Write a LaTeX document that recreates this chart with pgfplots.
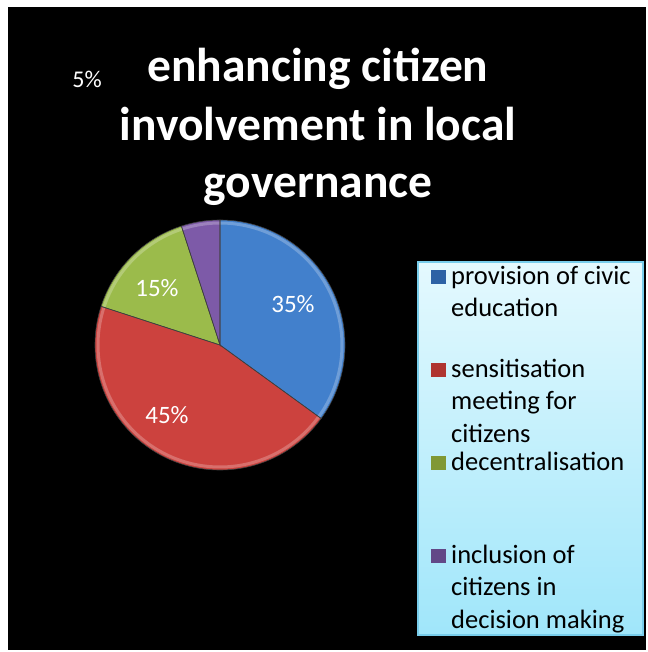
\documentclass[border=0pt]{standalone}
\usepackage{pgfplots}
\pgfplotsset{compat=1.18}
\usepackage{pgfplotstable}
\usepackage{fontspec}
\setmainfont{Carlito}

\pgfplotstableread{
idx value
0 35
1 45
2 15
3 5
}\piedata

\definecolor{pieblue}{RGB}{66,128,204}
\definecolor{piered}{RGB}{204,66,62}
\definecolor{piegreen}{RGB}{155,187,75}
\definecolor{piepurple}{RGB}{125,90,168}
\definecolor{sqblue}{RGB}{45,98,165}
\definecolor{sqred}{RGB}{175,52,48}
\definecolor{sqgreen}{RGB}{128,152,52}
\definecolor{sqpurple}{RGB}{98,72,135}
\definecolor{legtop}{RGB}{228,249,254}
\definecolor{legbot}{RGB}{160,230,250}
\definecolor{legborder}{RGB}{120,205,235}

\begin{document}
\begin{tikzpicture}
\pgfplotstablegetelem{0}{value}\of\piedata\pgfmathsetmacro\aB{90-3.6*\pgfplotsretval}
\pgfplotstablegetelem{1}{value}\of\piedata\pgfmathsetmacro\aC{\aB-3.6*\pgfplotsretval}
\pgfplotstablegetelem{2}{value}\of\piedata\pgfmathsetmacro\aD{\aC-3.6*\pgfplotsretval}
\pgfplotstablegetelem{3}{value}\of\piedata\pgfmathsetmacro\aE{\aD-3.6*\pgfplotsretval}
\begin{axis}[width=648bp,height=652bp,scale only axis,
  xmin=0,xmax=648,ymin=0,ymax=652,y dir=reverse,hide axis,clip=false]
\fill[white] (axis cs:0,0) rectangle (axis cs:648,652);
\fill[black] (axis cs:8,7) rectangle (axis cs:646,650);
% bevel highlight along the rims (drawn under the slice outlines)
\addplot[fill=pieblue,draw=none,domain=90:\aB,samples=90,variable=\t]
  ({220+125*cos(\t)},{345-125*sin(\t)}) -- (axis cs:220,345) -- cycle;
\addplot[fill=piered,draw=none,domain=\aB:\aC,samples=110,variable=\t]
  ({220+125*cos(\t)},{345-125*sin(\t)}) -- (axis cs:220,345) -- cycle;
\addplot[fill=piegreen,draw=none,domain=\aC:\aD,samples=50,variable=\t]
  ({220+125*cos(\t)},{345-125*sin(\t)}) -- (axis cs:220,345) -- cycle;
\addplot[fill=piepurple,draw=none,domain=\aD:\aE,samples=20,variable=\t]
  ({220+125*cos(\t)},{345-125*sin(\t)}) -- (axis cs:220,345) -- cycle;
\addplot[draw=pieblue!60!white,line width=3bp,opacity=0.6,domain=90:\aB,samples=90,variable=\t]
  ({220+122*cos(\t)},{345-122*sin(\t)});
\addplot[draw=piered!60!white,line width=3bp,opacity=0.6,domain=\aB:\aC,samples=110,variable=\t]
  ({220+122*cos(\t)},{345-122*sin(\t)});
\addplot[draw=piegreen!60!white,line width=3bp,opacity=0.6,domain=\aC:\aD,samples=50,variable=\t]
  ({220+122*cos(\t)},{345-122*sin(\t)});
\addplot[draw=piepurple!60!white,line width=3bp,opacity=0.6,domain=\aD:\aE,samples=20,variable=\t]
  ({220+122*cos(\t)},{345-122*sin(\t)});
% slice outlines
\addplot[draw=black!75,line width=0.6bp,domain=90:\aB,samples=90,variable=\t]
  ({220+125*cos(\t)},{345-125*sin(\t)}) -- (axis cs:220,345) -- cycle;
\addplot[draw=black!75,line width=0.6bp,domain=\aB:\aC,samples=110,variable=\t]
  ({220+125*cos(\t)},{345-125*sin(\t)}) -- (axis cs:220,345) -- cycle;
\addplot[draw=black!75,line width=0.6bp,domain=\aC:\aD,samples=50,variable=\t]
  ({220+125*cos(\t)},{345-125*sin(\t)}) -- (axis cs:220,345) -- cycle;
\addplot[draw=black!75,line width=0.6bp,domain=\aD:\aE,samples=20,variable=\t]
  ({220+125*cos(\t)},{345-125*sin(\t)}) -- (axis cs:220,345) -- cycle;
% data labels
\node[white,anchor=base,inner sep=0,font=\fontsize{25bp}{30bp}\selectfont] at (axis cs:293,312) {35\%};
\node[white,anchor=base,inner sep=0,font=\fontsize{25bp}{30bp}\selectfont] at (axis cs:167,423) {45\%};
\node[white,anchor=base,inner sep=0,font=\fontsize{25bp}{30bp}\selectfont] at (axis cs:157,296) {15\%};
\node[white,anchor=base,inner sep=0,font=\fontsize{24bp}{28bp}\selectfont] at (axis cs:87,88) {5\%};
% title
\node[white,anchor=base,inner sep=0,font=\fontsize{47.5bp}{56bp}\selectfont\bfseries] at (axis cs:318,82) {enhancing citizen};
\node[white,anchor=base,inner sep=0,font=\fontsize{47.5bp}{56bp}\selectfont\bfseries] at (axis cs:318,140) {involvement in local};
\node[white,anchor=base,inner sep=0,font=\fontsize{47.5bp}{56bp}\selectfont\bfseries] at (axis cs:318,197) {governance};
% legend
\shade[top color=legtop,bottom color=legbot] (axis cs:418,262) rectangle (axis cs:643,635);
\draw[legborder,line width=1.2bp] (axis cs:418,262) rectangle (axis cs:643,635);
\fill[sqblue] (axis cs:431,270) rectangle (axis cs:446,284);
\fill[sqred] (axis cs:431,363) rectangle (axis cs:446,377);
\fill[sqgreen] (axis cs:431,456) rectangle (axis cs:446,470);
\fill[sqpurple] (axis cs:431,549) rectangle (axis cs:446,563);
\begin{scope}[every node/.style={anchor=base west,inner sep=0,text=black,font=\fontsize{26.5bp}{32bp}\selectfont}]
\node at (axis cs:451,284) {provision of civic};
\node at (axis cs:451,316) {education};
\node at (axis cs:451,377) {sensitisation};
\node at (axis cs:451,409) {meeting for};
\node at (axis cs:451,442) {citizens};
\node at (axis cs:451,470) {decentralisation};
\node at (axis cs:451,563) {inclusion of};
\node at (axis cs:451,595) {citizens in};
\node at (axis cs:451,628) {decision making};
\end{scope}
\end{axis}
\end{tikzpicture}
\end{document}
